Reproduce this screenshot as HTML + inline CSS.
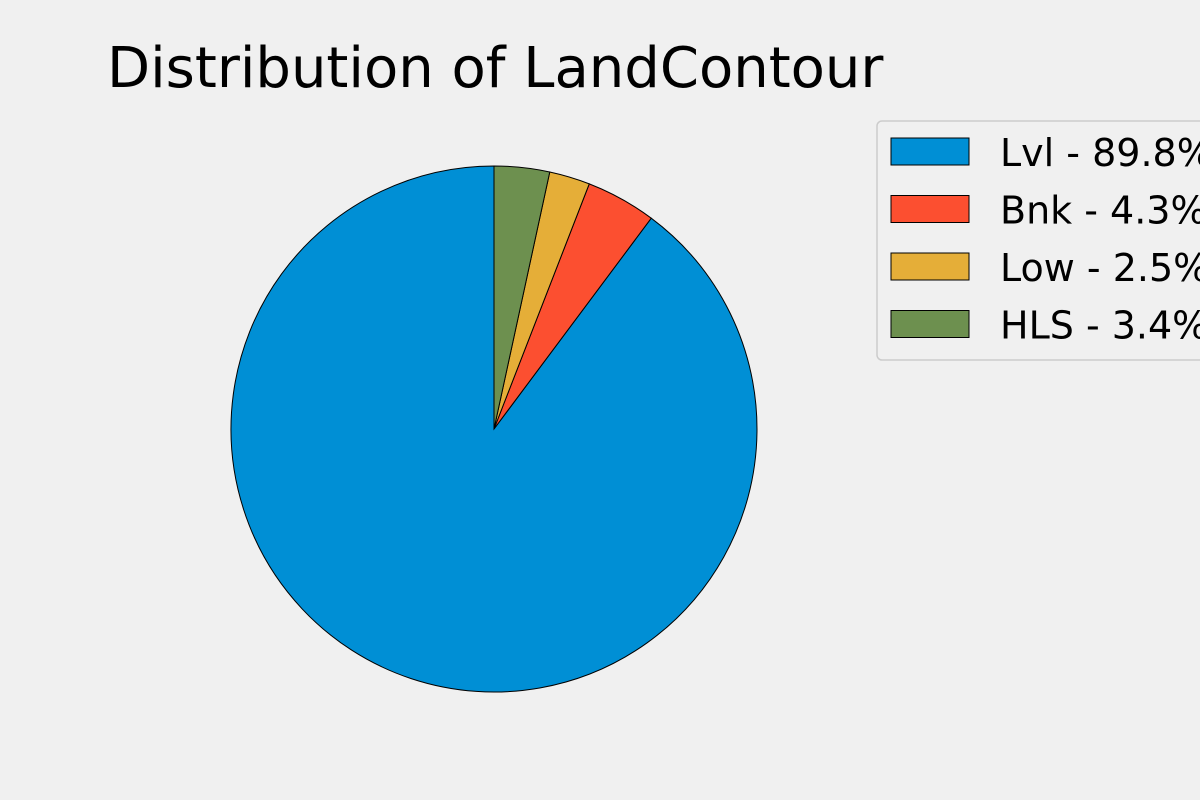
<!DOCTYPE html>
<html><head><meta charset="utf-8"><style>
body{margin:0;background:#f0f0f0;}
svg{display:block;font-family:"DejaVu Sans","Liberation Sans",sans-serif;}
</style></head><body>
<svg id="chart" width="1200" height="800">
<rect width="1200" height="800" fill="#f0f0f0"/>
<text x="107" y="87" font-size="56" fill="#000">Distribution of LandContour</text>
<g id="slices"></g>
<g id="legend">
<rect x="877" y="121" width="340" height="239" rx="5" fill="#f0f0f0" stroke="#cccccc" stroke-width="1.5"/>
</g>
</svg>
<script>
const categories = ["Lvl","Bnk","Low","HLS"];
const values = [89.8,4.3,2.5,3.4];
const colors = ["#008fd5","#fc4f30","#e5ae38","#6d904f"];
const cx=494, cy=429, r=263;
const ns="http://www.w3.org/2000/svg";
const total=values.reduce((a,b)=>a+b,0);
const g=document.getElementById('slices');
let a0=90;
function pt(a){const rad=a*Math.PI/180;return [cx+r*Math.cos(rad), cy-r*Math.sin(rad)];}
values.forEach((v,i)=>{
  const sweep=v/total*360;
  const a1=a0+sweep;
  const p0=pt(a0), p1=pt(a1);
  const large=sweep>180?1:0;
  const path=document.createElementNS(ns,'path');
  path.setAttribute('d',`M${cx},${cy} L${p0[0]},${p0[1]} A${r},${r} 0 ${large} 0 ${p1[0]},${p1[1]} Z`);
  path.setAttribute('fill',colors[i]);
  path.setAttribute('stroke','#000');
  path.setAttribute('stroke-width','1');
  
  
  g.appendChild(path);
  a0=a1;
});
const lg=document.getElementById('legend');
categories.forEach((c,i)=>{
  const y=138+i*57.5;
  const rect=document.createElementNS(ns,'rect');
  rect.setAttribute('x',891);rect.setAttribute('y',y);
  rect.setAttribute('width',78);rect.setAttribute('height',27);
  rect.setAttribute('fill',colors[i]);rect.setAttribute('stroke','#000');rect.setAttribute('stroke-width','1');
  
  
  lg.appendChild(rect);
  const t=document.createElementNS(ns,'text');
  t.setAttribute('x',1000);t.setAttribute('y',y+28);
  t.setAttribute('font-size','38');
  t.textContent=c+' - '+values[i].toFixed(1)+'%';
  
  
  lg.appendChild(t);
});
</script>
</body></html>
